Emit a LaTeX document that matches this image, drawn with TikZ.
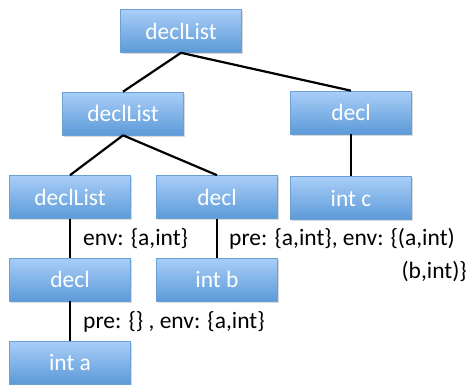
\documentclass[tikz,border=0pt]{standalone}
\usepackage{fontspec}
\setmainfont{Carlito}
\usetikzlibrary{shadows}
\definecolor{boxtop}{HTML}{A9CEF8}
\definecolor{boxbot}{HTML}{5C9AD8}
\definecolor{boxline}{HTML}{6A9FD8}
\tikzset{
  treebox/.style={rectangle, minimum width=121pt, minimum height=43pt,
    top color=boxtop, bottom color=boxbot, draw=boxline, line width=0.6pt,
    text=white, font=\fontsize{23.5}{26}\selectfont, inner sep=0pt,
    drop shadow={shadow xshift=1.5pt, shadow yshift=-1.5pt, opacity=0.25, fill=black!60}},
  edge/.style={line width=2.2pt, black},
  note/.style={font=\fontsize{23.5}{26}\selectfont, inner sep=0pt, text=black}
}
\begin{document}
\begin{tikzpicture}[x=1pt, y=-1pt]
  \useasboundingbox (0,0) rectangle (471,384);
  % tree nodes
  \node[treebox] (root) at (181,31) {declList};
  \node[treebox] (dl2)  at (123,113.5) {declList};
  \node[treebox] (d2)   at (351,112.5) {decl};
  \node[treebox] (dl3)  at (70,197) {declList};
  \node[treebox] (d3)   at (217,197) {decl};
  \node[treebox] (ic)   at (351,198) {int c};
  \node[treebox] (d4)   at (70,279.5) {decl};
  \node[treebox] (ib)   at (217,279.5) {int b};
  \node[treebox] (ia)   at (70,362.5) {int a};
  % connectors
  \draw[edge] (root.south) -- (dl2.north);
  \draw[edge] (root.south) -- (d2.north);
  \draw[edge] (dl2.south) -- (dl3.north);
  \draw[edge] (dl2.south) -- (d3.north);
  \draw[edge] (d2.south) -- (ic.north);
  \draw[edge] (dl3.south) -- (d4.north);
  \draw[edge] (d3.south) -- (ib.north);
  \draw[edge] (d4.south) -- (ia.north);
  % annotations
  \node[note, anchor=west] (n1) at (83,239) {env: \{a,int\}};
  \node[note, anchor=west] (n2) at (229,239) {pre: \{a,int\}, env: \{(a,int)};
  \node[note, anchor=east] (n3) at (467,272) {(b,int)\}};
  \node[note, anchor=west] (n4) at (83,322) {pre: \{\} , env: \{a,int\}};
\end{tikzpicture}
\end{document}
